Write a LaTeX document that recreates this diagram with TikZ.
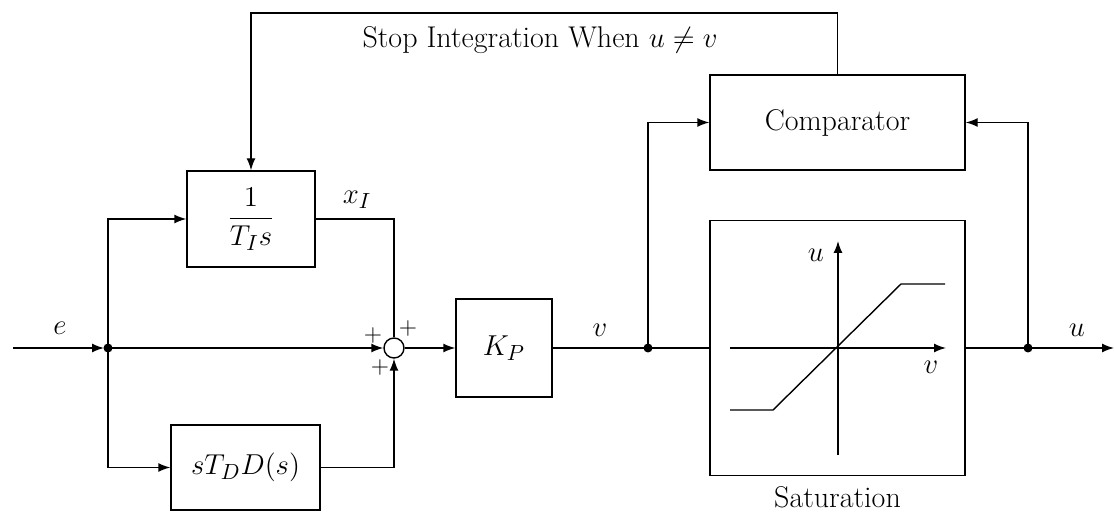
\documentclass[tikz,border=0pt]{standalone}
\usetikzlibrary{arrows.meta}
\begin{document}
\begin{tikzpicture}[x=0.5pt,y=-0.5pt, font=\fontsize{15}{18}\selectfont, line width=0.7pt,
  blk/.style={draw, rectangle, inner sep=0pt},
  arr/.style={-{Latex[length=6pt,width=4.5pt]}},
  dot/.style={circle, fill, inner sep=0pt, minimum size=4.5pt},
  lbl/.style={inner sep=0pt},
  sgn/.style={inner sep=0pt, font=\fontsize{12.5}{14}\selectfont}]
\useasboundingbox (0,0) rectangle (1114,523);
% blocks
\node[blk, minimum width=64pt, minimum height=48pt] (int) at (251,219) {$\displaystyle\frac{1}{T_I s}$};
\node[blk, minimum width=74.5pt, minimum height=42.5pt] (der) at (245.5,467.5) {$sT_DD(s)$};
\node[blk, minimum width=48pt, minimum height=49pt] (kp) at (504,348) {$K_P$};
\node[blk, minimum width=127.5pt, minimum height=47.5pt] (cmp) at (837.5,122.5) {Comparator};
\node[blk, minimum width=127.5pt, minimum height=127.5pt] (sat) at (837.5,348) {};
\node[lbl] (satl) at (837.5,497) {Saturation};
\node[circle, draw, minimum size=10pt, inner sep=0pt] (sum) at (394,348) {};
% points
\coordinate (in) at (13,348);
\node[dot] (br) at (108,348) {};
\node[dot] (vb) at (648,348) {};
\node[dot] (ub) at (1028,348) {};
\coordinate (out) at (1114,348);
\coordinate (fb) at (251,13);
% connectors
\draw[arr, shorten >=2pt] (in) -- (br.center);
\draw[arr] (br.center) -- (sum.west);
\draw[arr] (br.center) |- (int.west);
\draw[arr] (br.center) |- (der.west);
\draw (int.east) -| (sum.north);
\draw[arr] (der.east) -| (sum.south);
\draw[arr] (sum.east) -- (kp.west);
\draw (kp.east) -- (sat.west);
\draw[arr] (vb.center) |- (cmp.west);
\draw[arr] (sat.east) -- (out);
\draw[arr] (ub.center) |- (cmp.east);
\draw[arr] (cmp.north) |- (fb) -- (int.north);
% labels
\node[lbl] (le) at (60,328) {$e$};
\node[lbl] (lx) at (357,200) {$x_I$};
\node[lbl] (lv) at (600,330) {$v$};
\node[lbl] (lu) at (1077,330) {$u$};
\node[sgn] (p1) at (373,336) {$+$};
\node[sgn] (p2) at (408,329) {$+$};
\node[sgn] (p3) at (380,368) {$+$};
\node[lbl] (title) at (540,40) {Stop Integration When $u \neq v$};
% saturation characteristic
\draw[arr] (730,348) -- (946,348);
\draw[arr] (838,455) -- (838,241);
\draw (730,410) -- (773,410) -- (901,284) -- (945,284);
\node[lbl] (su) at (816,255) {$u$};
\node[lbl] (sv) at (931,367) {$v$};
\end{tikzpicture}
\end{document}
